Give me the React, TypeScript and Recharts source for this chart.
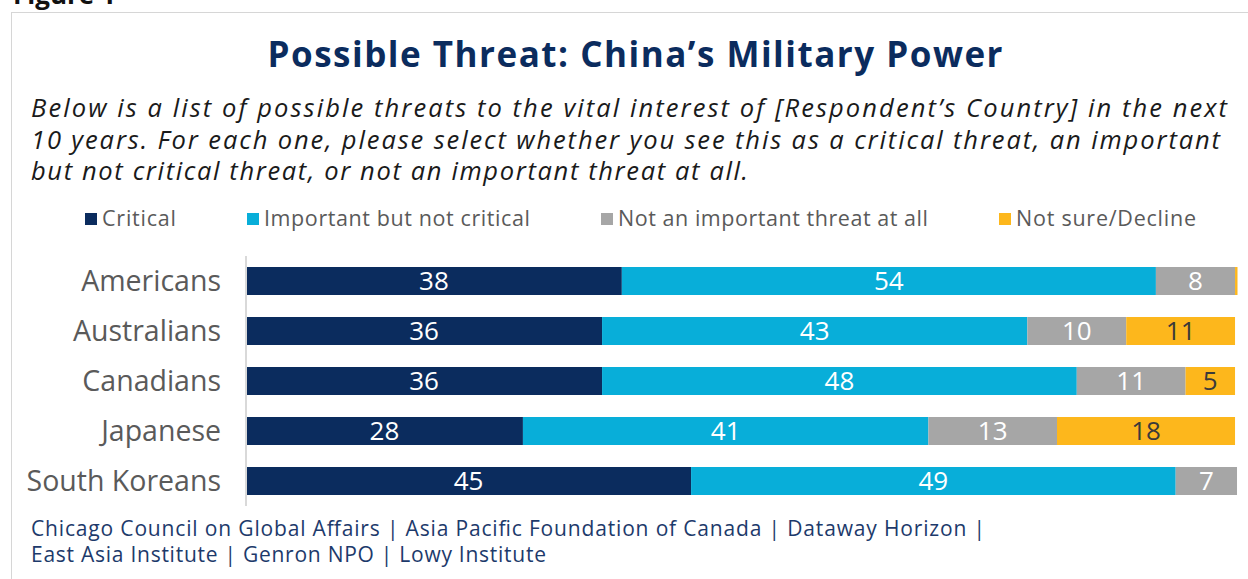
import React from 'react';
import { BarChart, Bar, XAxis, YAxis, LabelList } from 'recharts';

const categories = ['Americans', 'Australians', 'Canadians', 'Japanese', 'South Koreans'];
const critical = [38, 36, 36, 28, 45];
const important = [54, 43, 48, 41, 49];
const notImportant = [8, 10, 11, 13, 6.2];
const notSure = [0.25, 11, 5, 18, 0];
const criticalLabels = ['38', '36', '36', '28', '45'];
const importantLabels = ['54', '43', '48', '41', '49'];
const notImportantLabels = ['8', '10', '11', '13', '7'];
const notSureLabels = ['', '11', '5', '18', ''];

const seriesNames = ['Critical', 'Important but not critical', 'Not an important threat at all', 'Not sure/Decline'];
const seriesColors = ['#0b2c5e', '#08aed9', '#a6a6a6', '#fdb71c'];
const labelColors = ['#ffffff', '#ffffff', '#ffffff', '#3a3a3a'];

const title = 'Possible Threat: China\u2019s Military Power';
const subtitleLines = [
  'Below is a list of possible threats to the vital interest of [Respondent\u2019s Country] in the next',
  '10 years. For each one, please select whether you see this as a critical threat, an important',
  'but not critical threat, or not an important threat at all.',
];
const footerLines = [
  'Chicago Council on Global Affairs | Asia Pacific Foundation of Canada | Dataway Horizon |',
  'East Asia Institute | Genron NPO | Lowy Institute',
];

const data = categories.map((c, i) => ({
  name: c,
  critical: critical[i],
  important: important[i],
  notImportant: notImportant[i],
  notSure: notSure[i],
  criticalLabel: criticalLabels[i],
  importantLabel: importantLabels[i],
  notImportantLabel: notImportantLabels[i],
  notSureLabel: notSureLabels[i],
}));

const keys = ['critical', 'important', 'notImportant', 'notSure'];
const FONT = '"Open Sans", "Noto Sans", sans-serif';

const legendX = [102, 264, 618, 1016];
const legendW = [74, 266, 310, 180];
const subtitleW = [1196, 1189, 717];
const footerW = [954, 515];

const YTick = (props: any) => {
  const { y, payload } = props;
  return (
    <text x={221} y={y} dy={10} textAnchor="end" fontFamily={FONT} fontSize={28.5} fill="#5a5a5a">
      {payload.value}
    </text>
  );
};

export default function App() {
  return (
    <div style={{ position: 'fixed', left: 0, top: 0, width: 1248, height: 579, overflow: 'hidden', background: '#fff' }}>
      <div style={{ position: 'absolute', left: 11, top: 12, width: 1400, height: 800, border: '1px solid #d6d6d6', boxSizing: 'border-box' }} />
      <svg width={1248} height={579} style={{ position: 'absolute', left: 0, top: 0 }}>
        <text x={13} y={4} fontFamily={FONT} fontWeight={700} fontSize={26} fill="#111">Figure 1</text>
        <text x={635} y={67} textAnchor="middle" fontFamily={FONT} fontWeight={700} fontSize={35} fill="#0b2c5e" textLength={735}>
          {title}
        </text>
        {subtitleLines.map((l, i) => (
          <text key={i} x={31} y={117 + i * 31.5} fontFamily={FONT} fontStyle="italic" fontSize={25.5} fill="#1a1a1a" textLength={subtitleW[i]}>
            {l}
          </text>
        ))}
        {seriesNames.map((n, i) => (
          <g key={n}>
            <rect x={legendX[i] - 17} y={213} width={12} height={12} fill={seriesColors[i]} />
            <text x={legendX[i]} y={226} fontFamily={FONT} fontSize={21.5} fill="#5a5a5a" textLength={legendW[i]}>
              {n}
            </text>
          </g>
        ))}
        {footerLines.map((l, i) => (
          <text key={i} x={31} y={536 + i * 25.5} fontFamily={FONT} fontSize={21} fill="#1d3a6b" textLength={footerW[i]}>
            {l}
          </text>
        ))}
      </svg>
      <div style={{ position: 'absolute', left: 0, top: 0 }}>
        <BarChart
          width={1248}
          height={579}
          data={data}
          layout="vertical"
          margin={{ top: 256, right: 10, bottom: 73, left: 0 }}
          barSize={28}
        >
          <XAxis type="number" domain={[0, 100.3]} hide />
          <YAxis
            type="category"
            dataKey="name"
            width={246}
            axisLine={{ stroke: '#d9d9d9', strokeWidth: 2 }}
            tickLine={false}
            tick={<YTick />}
            interval={0}
          />
          {keys.map((k, i) => (
            <Bar key={k} dataKey={k} stackId="a" fill={seriesColors[i]} isAnimationActive={false}>
              <LabelList
                dataKey={k + 'Label'}
                position="center"
                fill={labelColors[i]}
                fontFamily={FONT}
                fontSize={26}
                style={{ fill: labelColors[i] }}
              />
            </Bar>
          ))}
        </BarChart>
      </div>
    </div>
  );
}
